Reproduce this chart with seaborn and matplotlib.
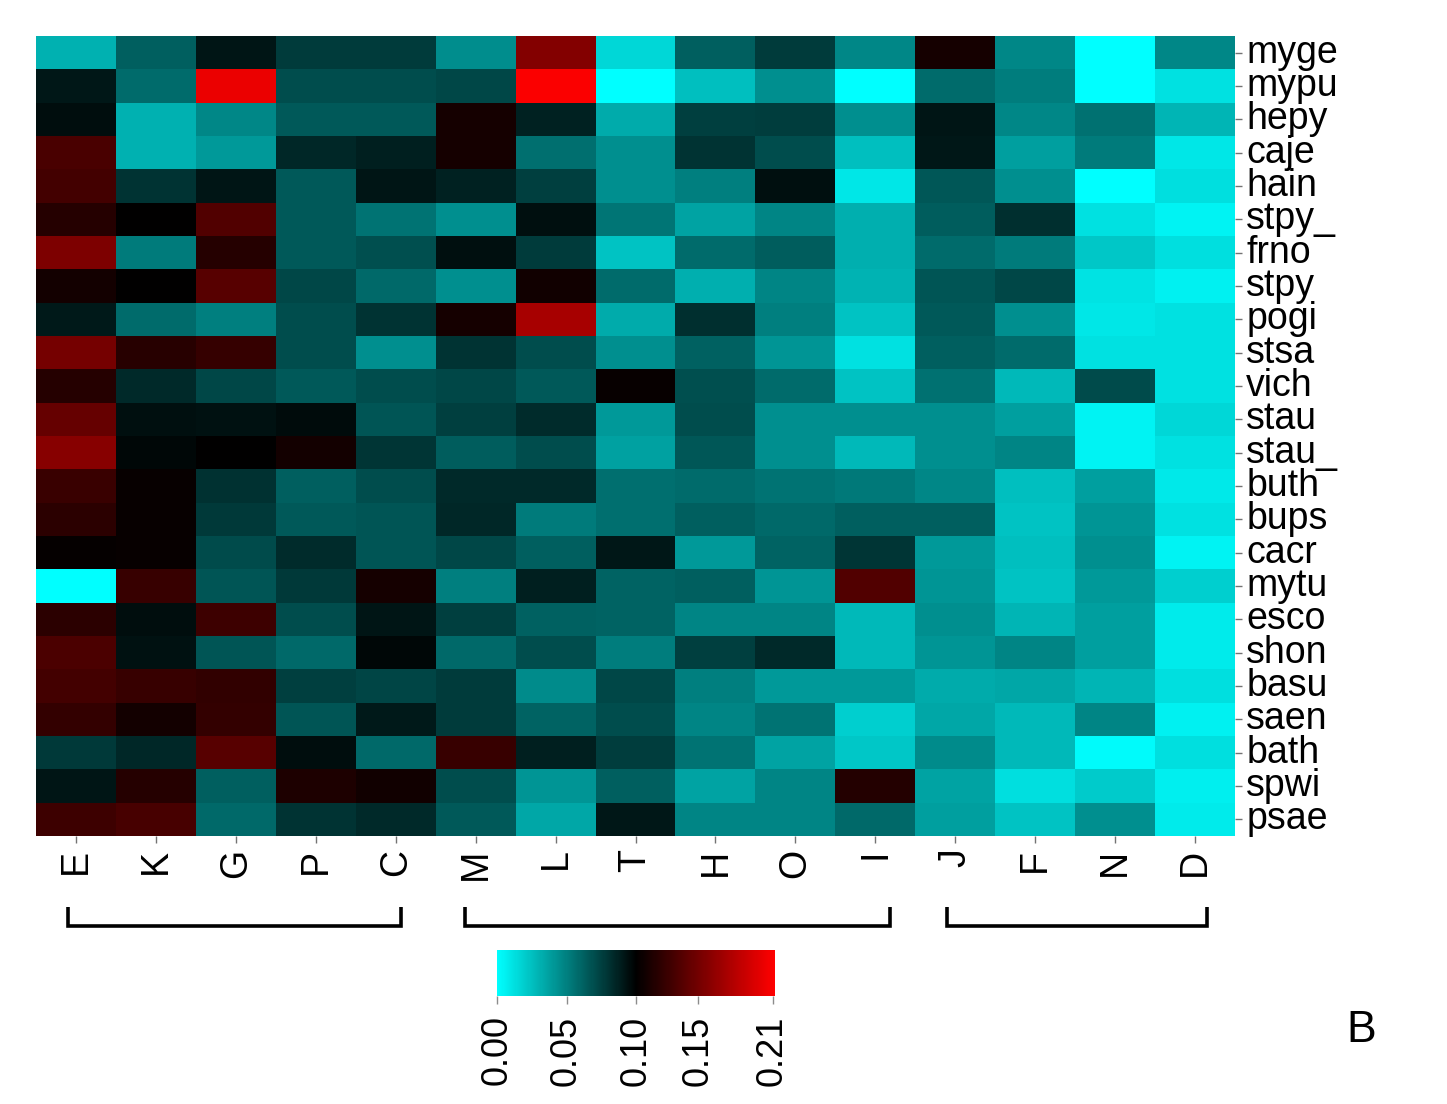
import matplotlib
matplotlib.use("Agg")
import numpy as np
import pandas as pd
import seaborn as sns
import matplotlib.pyplot as plt
from matplotlib.colors import LinearSegmentedColormap, TwoSlopeNorm
from matplotlib.lines import Line2D

# ---------------- data ----------------
columns = ["E", "K", "G", "P", "C", "M", "L", "T", "H", "O", "I", "J", "F", "N", "D"]
rows = ["myge", "mypu", "hepy", "caje", "hain", "stpy_", "frno", "stpy", "pogi", "stsa",
        "vich", "stau", "stau_", "buth", "bups", "cacr", "mytu", "esco", "shon", "basu",
        "saen", "bath", "spwi", "psae"]

r_myge  = [0.031, 0.063, 0.092, 0.077, 0.077, 0.045, 0.157, 0.016, 0.063, 0.077, 0.047, 0.109, 0.047, 0.000, 0.047]
r_mypu  = [0.091, 0.058, 0.203, 0.070, 0.070, 0.072, 0.210, 0.000, 0.025, 0.044, 0.000, 0.058, 0.051, 0.000, 0.012]
r_hepy  = [0.095, 0.031, 0.047, 0.065, 0.065, 0.109, 0.087, 0.033, 0.075, 0.076, 0.044, 0.092, 0.047, 0.056, 0.029]
r_caje  = [0.132, 0.031, 0.040, 0.085, 0.088, 0.109, 0.057, 0.044, 0.080, 0.070, 0.025, 0.091, 0.038, 0.052, 0.010]
r_hain  = [0.129, 0.080, 0.092, 0.065, 0.092, 0.087, 0.075, 0.044, 0.050, 0.094, 0.010, 0.066, 0.044, 0.000, 0.013]
r_stpy_ = [0.116, 0.100, 0.135, 0.065, 0.055, 0.044, 0.094, 0.054, 0.036, 0.048, 0.032, 0.064, 0.082, 0.012, 0.005]
r_frno  = [0.155, 0.052, 0.116, 0.065, 0.069, 0.094, 0.077, 0.024, 0.058, 0.064, 0.032, 0.058, 0.052, 0.022, 0.013]
r_stpy  = [0.108, 0.100, 0.138, 0.072, 0.059, 0.044, 0.107, 0.058, 0.032, 0.048, 0.030, 0.067, 0.072, 0.011, 0.006]
r_pogi  = [0.090, 0.058, 0.050, 0.070, 0.080, 0.109, 0.173, 0.033, 0.082, 0.050, 0.024, 0.065, 0.044, 0.010, 0.012]
r_stsa  = [0.151, 0.117, 0.123, 0.070, 0.044, 0.080, 0.070, 0.044, 0.062, 0.042, 0.012, 0.063, 0.058, 0.012, 0.012]
r_vich  = [0.116, 0.084, 0.072, 0.065, 0.070, 0.072, 0.065, 0.103, 0.069, 0.058, 0.024, 0.056, 0.028, 0.071, 0.012]
r_stau  = [0.144, 0.094, 0.093, 0.096, 0.067, 0.075, 0.083, 0.040, 0.070, 0.044, 0.044, 0.044, 0.038, 0.005, 0.016]
r_stau_ = [0.159, 0.097, 0.100, 0.108, 0.079, 0.064, 0.070, 0.037, 0.066, 0.044, 0.028, 0.044, 0.048, 0.005, 0.012]
r_buth  = [0.125, 0.103, 0.081, 0.063, 0.070, 0.084, 0.084, 0.057, 0.058, 0.055, 0.053, 0.047, 0.025, 0.038, 0.009]
r_bups  = [0.119, 0.103, 0.078, 0.065, 0.067, 0.085, 0.052, 0.057, 0.063, 0.059, 0.063, 0.063, 0.024, 0.042, 0.012]
r_cacr  = [0.102, 0.103, 0.071, 0.083, 0.067, 0.072, 0.063, 0.091, 0.040, 0.061, 0.079, 0.040, 0.025, 0.044, 0.005]
r_mytu  = [0.000, 0.124, 0.067, 0.078, 0.109, 0.050, 0.088, 0.061, 0.063, 0.042, 0.135, 0.042, 0.024, 0.040, 0.019]
r_esco  = [0.119, 0.095, 0.127, 0.070, 0.092, 0.075, 0.062, 0.061, 0.048, 0.048, 0.028, 0.044, 0.029, 0.038, 0.008]
r_shon  = [0.133, 0.093, 0.067, 0.059, 0.097, 0.059, 0.070, 0.051, 0.075, 0.084, 0.028, 0.042, 0.048, 0.038, 0.008]
r_basu  = [0.129, 0.124, 0.121, 0.075, 0.073, 0.077, 0.046, 0.072, 0.050, 0.040, 0.040, 0.033, 0.035, 0.029, 0.013]
r_saen  = [0.122, 0.108, 0.122, 0.067, 0.090, 0.077, 0.061, 0.070, 0.048, 0.055, 0.019, 0.035, 0.028, 0.048, 0.006]
r_bath  = [0.078, 0.085, 0.138, 0.095, 0.059, 0.124, 0.088, 0.076, 0.055, 0.036, 0.022, 0.046, 0.028, 0.002, 0.013]
r_spwi  = [0.092, 0.116, 0.063, 0.113, 0.107, 0.070, 0.042, 0.063, 0.036, 0.048, 0.115, 0.036, 0.013, 0.021, 0.007]
r_psae  = [0.127, 0.131, 0.059, 0.080, 0.084, 0.065, 0.035, 0.091, 0.048, 0.048, 0.059, 0.038, 0.024, 0.044, 0.008]

cbar_ticks = [0.00, 0.05, 0.10, 0.15, 0.21]
cbar_ticklabels = ["0.00", "0.05", "0.10", "0.15", "0.21"]
panel_label = "B"

# ---------------- table ----------------
table = [r_myge, r_mypu, r_hepy, r_caje, r_hain, r_stpy_, r_frno, r_stpy, r_pogi, r_stsa,
         r_vich, r_stau, r_stau_, r_buth, r_bups, r_cacr, r_mytu, r_esco, r_shon, r_basu,
         r_saen, r_bath, r_spwi, r_psae]
df = pd.DataFrame(table, index=rows, columns=columns)

# ---------------- style ----------------
sns.set_theme(style="white")
plt.rcParams["font.family"] = ["Liberation Sans", "DejaVu Sans"]
plt.rcParams["text.color"] = "black"
plt.rcParams["xtick.labelcolor"] = "black"
plt.rcParams["ytick.labelcolor"] = "black"

W, H = 1447, 1104
fig = plt.figure(figsize=(W / 100, H / 100), dpi=100)
fig.patch.set_facecolor("white")

cmap = LinearSegmentedColormap.from_list(
    "cyan_black_red", [(0.0, "#00FFFF"), (0.5, "#000000"), (1.0, "#FF0000")])
norm = TwoSlopeNorm(vmin=0.0, vcenter=0.10, vmax=0.212)

ax = fig.add_axes([36 / W, 1 - 836 / H, (1235 - 36) / W, (836 - 36) / H])
sns.heatmap(df, ax=ax, cmap=cmap, norm=norm, cbar=False, linewidths=0)

fs = 27
ax.yaxis.tick_right()
ax.set_yticks(np.arange(len(rows)) + 0.5)
ax.set_yticklabels(rows, rotation=0, fontsize=fs, va="center", color="black")
ax.set_xticks(np.arange(len(columns)) + 0.5)
ax.set_xticklabels(columns, rotation=90, fontsize=fs, color="black")
ax.tick_params(axis="y", left=False, right=True, labelleft=False, labelright=True,
               length=5, width=1, color="0.45", pad=3)
ax.tick_params(axis="x", bottom=True, length=5, width=1, color="0.45", pad=4)
ax.set_xlabel("")
ax.set_ylabel("")
for s in ax.spines.values():
    s.set_visible(False)

# ---------------- colorbar ----------------
cax = fig.add_axes([497 / W, 1 - 996 / H, (775 - 497) / W, (996 - 950) / H])
cb = fig.colorbar(ax.collections[0], cax=cax, orientation="horizontal", ticks=cbar_ticks)
cb.set_ticklabels(cbar_ticklabels)
cb.outline.set_visible(False)
cax.tick_params(axis="x", labelsize=26, rotation=90, length=6, width=1,
                color="0.55", pad=8, bottom=True, labelcolor="black")

# ---------------- group brackets (figure pixel coords) ----------------
bracket_spans = [(68, 401), (465, 890), (947, 1207)]
y_top, y_bot = 907, 926
for x0, x1 in bracket_spans:
    xs = [x0 / W, x0 / W, x1 / W, x1 / W]
    ys = [1 - y_top / H, 1 - y_bot / H, 1 - y_bot / H, 1 - y_top / H]
    fig.add_artist(Line2D(xs, ys, color="black", lw=2.6, solid_joinstyle="miter",
                          solid_capstyle="butt"))

fig.text(1361 / W, 1 - 1031 / H, panel_label, fontsize=32, ha="center", va="center",
         color="black")

fig.savefig("out.png", dpi=100, facecolor="white")
